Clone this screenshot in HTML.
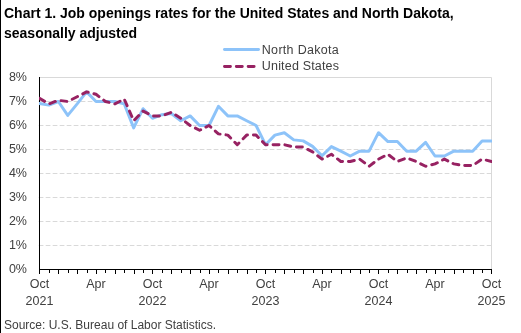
<!DOCTYPE html>
<html><head><meta charset="utf-8"><style>
html,body{margin:0;padding:0;background:#fff;}
body{width:521px;height:333px;overflow:hidden;position:relative;}
svg{position:absolute;left:0;top:0;will-change:transform;}
text{font-family:"Liberation Sans",sans-serif;}
.title{font-weight:bold;font-size:14px;fill:#000;}
.g{stroke:#d9d9d9;stroke-width:1;stroke-dasharray:4.7 2.3;}
.t{stroke:#000;stroke-width:1;}
.yl{font-size:12.5px;fill:#404040;text-anchor:end;}
.xl{font-size:12.5px;fill:#404040;text-anchor:middle;}
.lg{font-size:12.5px;fill:#404040;letter-spacing:0.3px;}
.src{font-size:12px;fill:#404040;}
</style></head><body>
<svg width="521" height="333" viewBox="0 0 521 333">
<rect x="0" y="0" width="521" height="333" fill="#fff"/>
<line x1="0.5" y1="0" x2="0.5" y2="333" stroke="#000" stroke-width="1"/>
<text x="4" y="18" class="title">Chart 1. Job openings rates for the United States and North Dakota,</text>
<text x="4" y="38" class="title">seasonally adjusted</text>
<line x1="224.5" y1="49.5" x2="258.5" y2="49.5" stroke="#8dc3f9" stroke-width="2.96" stroke-linecap="round"/>
<line x1="224.5" y1="66.5" x2="258.5" y2="66.5" stroke="#972262" stroke-width="2.96" stroke-linecap="round" stroke-dasharray="5.92 5.92"/>
<text x="261.8" y="54" class="lg">North Dakota</text>
<text x="261.8" y="70" class="lg" style="letter-spacing:0.18px">United States</text>
<line x1="38.7" x2="491" y1="245.5" y2="245.5" class="g"/><line x1="38.7" x2="491" y1="221.5" y2="221.5" class="g"/><line x1="38.7" x2="491" y1="197.5" y2="197.5" class="g"/><line x1="38.7" x2="491" y1="173.5" y2="173.5" class="g"/><line x1="38.7" x2="491" y1="149.5" y2="149.5" class="g"/><line x1="38.7" x2="491" y1="125.5" y2="125.5" class="g"/><line x1="38.7" x2="491" y1="101.5" y2="101.5" class="g"/>
<text x="27" y="273.1" class="yl">0%</text><text x="27" y="249.1" class="yl">1%</text><text x="27" y="225.1" class="yl">2%</text><text x="27" y="201.1" class="yl">3%</text><text x="27" y="177.1" class="yl">4%</text><text x="27" y="153.1" class="yl">5%</text><text x="27" y="129.1" class="yl">6%</text><text x="27" y="105.1" class="yl">7%</text><text x="27" y="81.1" class="yl">8%</text>
<text x="39.50" y="288" class="xl">Oct</text><text x="39.50" y="305" class="xl">2021</text><text x="96.00" y="288" class="xl">Apr</text><text x="152.50" y="288" class="xl">Oct</text><text x="152.50" y="305" class="xl">2022</text><text x="209.00" y="288" class="xl">Apr</text><text x="265.50" y="288" class="xl">Oct</text><text x="265.50" y="305" class="xl">2023</text><text x="322.00" y="288" class="xl">Apr</text><text x="378.50" y="288" class="xl">Oct</text><text x="378.50" y="305" class="xl">2024</text><text x="435.00" y="288" class="xl">Apr</text><text x="491.50" y="288" class="xl">Oct</text><text x="491.50" y="305" class="xl">2025</text>
<polyline points="39.5,77.5 491.5,77.5 491.5,269.5" fill="none" stroke="#d9d9d9" stroke-width="1"/>
<line x1="39.5" y1="77" x2="39.5" y2="273.5" stroke="#000" stroke-width="1"/>
<line x1="39" y1="269.5" x2="492" y2="269.5" stroke="#000" stroke-width="1"/>
<rect x="39" y="270" width="1" height="4" fill="#000"/><rect x="49" y="270" width="1" height="3" fill="#000"/><rect x="58" y="270" width="1" height="4" fill="#000"/><rect x="68" y="270" width="1" height="3" fill="#000"/><rect x="77" y="270" width="1" height="4" fill="#000"/><rect x="87" y="270" width="1" height="3" fill="#000"/><rect x="96" y="270" width="1" height="4" fill="#000"/><rect x="105" y="270" width="1" height="3" fill="#000"/><rect x="115" y="270" width="1" height="4" fill="#000"/><rect x="124" y="270" width="1" height="3" fill="#000"/><rect x="134" y="270" width="1" height="4" fill="#000"/><rect x="143" y="270" width="1" height="3" fill="#000"/><rect x="152" y="270" width="1" height="4" fill="#000"/><rect x="162" y="270" width="1" height="3" fill="#000"/><rect x="171" y="270" width="1" height="4" fill="#000"/><rect x="181" y="270" width="1" height="3" fill="#000"/><rect x="190" y="270" width="1" height="4" fill="#000"/><rect x="200" y="270" width="1" height="3" fill="#000"/><rect x="209" y="270" width="1" height="4" fill="#000"/><rect x="218" y="270" width="1" height="3" fill="#000"/><rect x="228" y="270" width="1" height="4" fill="#000"/><rect x="237" y="270" width="1" height="3" fill="#000"/><rect x="247" y="270" width="1" height="4" fill="#000"/><rect x="256" y="270" width="1" height="3" fill="#000"/><rect x="265" y="270" width="1" height="4" fill="#000"/><rect x="275" y="270" width="1" height="3" fill="#000"/><rect x="284" y="270" width="1" height="4" fill="#000"/><rect x="294" y="270" width="1" height="3" fill="#000"/><rect x="303" y="270" width="1" height="4" fill="#000"/><rect x="313" y="270" width="1" height="3" fill="#000"/><rect x="322" y="270" width="1" height="4" fill="#000"/><rect x="331" y="270" width="1" height="3" fill="#000"/><rect x="341" y="270" width="1" height="4" fill="#000"/><rect x="350" y="270" width="1" height="3" fill="#000"/><rect x="360" y="270" width="1" height="4" fill="#000"/><rect x="369" y="270" width="1" height="3" fill="#000"/><rect x="378" y="270" width="1" height="4" fill="#000"/><rect x="388" y="270" width="1" height="3" fill="#000"/><rect x="397" y="270" width="1" height="4" fill="#000"/><rect x="407" y="270" width="1" height="3" fill="#000"/><rect x="416" y="270" width="1" height="4" fill="#000"/><rect x="426" y="270" width="1" height="3" fill="#000"/><rect x="435" y="270" width="1" height="4" fill="#000"/><rect x="444" y="270" width="1" height="3" fill="#000"/><rect x="454" y="270" width="1" height="4" fill="#000"/><rect x="463" y="270" width="1" height="3" fill="#000"/><rect x="473" y="270" width="1" height="4" fill="#000"/><rect x="482" y="270" width="1" height="3" fill="#000"/><rect x="491" y="270" width="1" height="4" fill="#000"/>
<defs><clipPath id="cp"><rect x="39" y="60" width="453" height="215"/></clipPath></defs>
<g clip-path="url(#cp)">
<polyline points="39.50,103.42 48.92,105.10 58.33,101.50 67.75,115.42 77.17,103.90 86.58,91.90 96.00,101.50 105.42,101.50 114.83,101.50 124.25,103.90 133.67,127.90 143.08,108.70 152.50,118.30 161.92,114.70 171.33,113.50 180.75,120.70 190.17,115.90 199.58,125.50 209.00,125.50 218.42,106.30 227.83,115.90 237.25,115.90 246.67,120.70 256.08,125.50 265.50,144.70 274.92,135.10 284.33,132.70 293.75,139.90 303.17,140.86 312.58,146.38 322.00,155.74 331.42,146.62 340.83,151.18 350.25,155.98 359.67,151.18 369.08,151.18 378.50,132.70 387.92,141.58 397.33,141.58 406.75,151.18 416.17,151.18 425.58,142.30 435.00,155.98 444.42,155.98 453.83,151.18 463.25,151.18 472.67,151.18 482.08,141.10 491.50,141.10" fill="none" stroke="#8dc3f9" stroke-width="2.96" stroke-linejoin="round" stroke-linecap="round"/>
<polyline points="39.50,98.38 48.92,103.90 58.33,100.30 67.75,101.50 77.17,96.70 86.58,91.90 96.00,94.30 105.42,101.50 114.83,103.90 124.25,99.10 133.67,120.70 143.08,111.10 152.50,115.90 161.92,115.90 171.33,112.30 180.75,118.30 190.17,125.50 199.58,130.30 209.00,125.50 218.42,133.90 227.83,135.10 237.25,144.70 246.67,135.10 256.08,135.10 265.50,144.70 274.92,144.70 284.33,144.70 293.75,147.10 303.17,147.10 312.58,151.90 322.00,159.10 331.42,154.30 340.83,161.50 350.25,161.50 359.67,159.10 369.08,166.30 378.50,159.10 387.92,154.30 397.33,161.50 406.75,157.90 416.17,161.50 425.58,166.30 435.00,163.90 444.42,159.10 453.83,163.90 463.25,165.58 472.67,165.58 482.08,159.10 491.50,161.50" fill="none" stroke="#972262" stroke-width="2.96" stroke-linejoin="round" stroke-linecap="round" stroke-dasharray="5.92 5.92"/>
</g>
<text x="4" y="328.5" class="src">Source: U.S. Bureau of Labor Statistics.</text>
</svg>
</body></html>
